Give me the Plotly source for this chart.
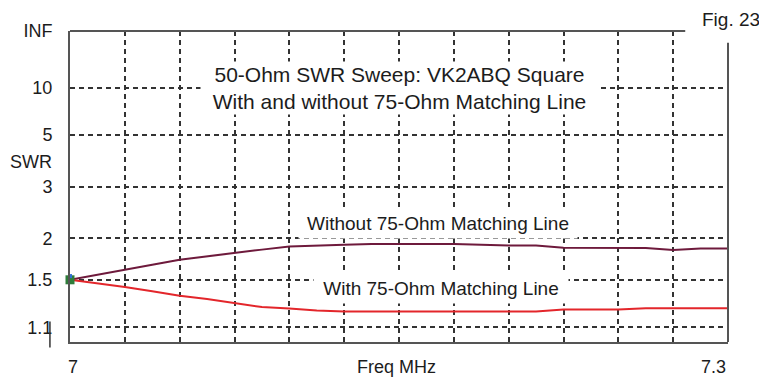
import numpy as np
import plotly.graph_objects as go

# ---- data ----
freq_mhz = [7.000, 7.0125, 7.025, 7.0375, 7.050, 7.0625, 7.075, 7.0875, 7.100, 7.1125,
            7.125, 7.1375, 7.150, 7.175, 7.200, 7.2125, 7.225, 7.250, 7.2625, 7.275,
            7.2875, 7.300]
swr_without = [1.50, 1.55, 1.60, 1.66, 1.72, 1.76, 1.81, 1.845, 1.885, 1.90,
               1.91, 1.92, 1.92, 1.92, 1.90, 1.90, 1.87, 1.87, 1.865, 1.84,
               1.86, 1.86]
swr_with = [1.50, 1.466, 1.43, 1.39, 1.35, 1.32, 1.288, 1.253, 1.241, 1.225,
            1.217, 1.217, 1.217, 1.217, 1.217, 1.217, 1.233, 1.233, 1.243, 1.243,
            1.243, 1.243]
swr_tick_values = [float("inf"), 10, 5, 3, 2, 1.5, 1.1]
swr_tick_labels = ["INF", "10", "5", "3", "2", "1.5", "1.1"]
x_tick_labels = ["7", "7.3"]


def rho(s):
    s = np.asarray(s, dtype=float)
    out = np.where(np.isinf(s), 1.0, (s - 1.0) / (s + 1.0))
    return out


FONT = "Arial, Liberation Sans, sans-serif"
TXT = "#1c1c1c"
GRID = "#333333"

fig = go.Figure()
fig.add_trace(go.Scatter(x=freq_mhz, y=rho(swr_without), mode="lines",
                         line=dict(color="#6e1a3c", width=2), name="Without"))
fig.add_trace(go.Scatter(x=freq_mhz, y=rho(swr_with), mode="lines",
                         line=dict(color="#e3262b", width=2), name="With"))
# source marker at the start frequency
fig.add_trace(go.Scatter(x=[freq_mhz[0]], y=rho([swr_with[0]]), mode="markers",
                         marker=dict(symbol="square", size=9, color="#2f7d3a",
                                     line=dict(width=0)), cliponaxis=False))
fig.add_trace(go.Scatter(x=[freq_mhz[0]], y=rho([swr_with[0]]) + 0.012, mode="markers",
                         marker=dict(symbol="square", size=4, color="#2f6fd0",
                                     line=dict(width=0)), cliponaxis=False))

# page body adds an 8px offset, so the figure is sized to fit the window
fig.update_layout(
    width=759, height=369,
    margin=dict(l=62, r=39, t=23, b=35, autoexpand=False),
    paper_bgcolor="white", plot_bgcolor="white",
    showlegend=False,
    font=dict(family=FONT, color=TXT, size=18),
    xaxis=dict(range=[7.0, 7.3], dtick=0.025, tick0=7.0, showticklabels=False,
               showgrid=True, gridcolor=GRID, griddash="5px,4px", gridwidth=1.5,
               showline=True, linecolor="#555", linewidth=2, zeroline=False,
               ticks="", automargin=False),
    yaxis=dict(range=[0, 1], tickmode="array",
               tickvals=list(rho(swr_tick_values)), ticktext=swr_tick_labels,
               showgrid=True, gridcolor=GRID, griddash="5px,4px", gridwidth=1.5,
               showline=True, linecolor="#555", linewidth=2, zeroline=False,
               ticks="", ticklabelstandoff=12, automargin=False,
               tickfont=dict(size=18, color=TXT, family=FONT)),
)

# partial top and right frame lines (as in the reference)
fig.add_shape(type="line", xref="x domain", yref="y domain", x0=0, x1=0.935, y0=1, y1=1,
              line=dict(color="#555", width=2))
fig.add_shape(type="line", xref="x domain", yref="y domain", x0=1, x1=1, y0=0, y1=0.962,
              line=dict(color="#555", width=2))
fig.add_shape(type="line", xref="x domain", yref="y domain", x0=-0.0305, x1=-0.0305,
              y0=-0.018, y1=0.066, line=dict(color="#333", width=1.5))

ann = []
ann.append(dict(x=7.15, y=float(rho(10)), xref="x", yref="y",
                text="50-Ohm SWR Sweep: VK2ABQ Square<br>With and without 75-Ohm Matching Line",
                showarrow=False, font=dict(size=21, color=TXT, family=FONT),
                bgcolor="white", borderpad=1, width=395, align="center"))
ann.append(dict(x=7.1676, y=0.381, xref="x", yref="y",
                text="Without 75-Ohm Matching Line", showarrow=False,
                font=dict(size=19, color=TXT, family=FONT),
                bgcolor="white", borderpad=4, width=270))
ann.append(dict(x=7.1692, y=0.172, xref="x", yref="y",
                text="With 75-Ohm Matching Line", showarrow=False,
                font=dict(size=19, color=TXT, family=FONT),
                bgcolor="white", borderpad=4, width=246))
ann.append(dict(x=7.0, y=-0.079, xref="x", yref="paper", text=x_tick_labels[0],
                showarrow=False, xanchor="center", yanchor="middle", xshift=3,
                font=dict(size=18, color=TXT, family=FONT)))
ann.append(dict(x=7.3, y=-0.079, xref="x", yref="paper", text=x_tick_labels[1],
                showarrow=False, xanchor="right", yanchor="middle",
                font=dict(size=18, color=TXT, family=FONT)))
ann.append(dict(x=7.149, y=-0.079, xref="x", yref="paper", text="Freq MHz",
                showarrow=False, xanchor="center", yanchor="middle",
                font=dict(size=18, color=TXT, family=FONT)))
ann.append(dict(x=-0.094, y=0.58, xref="paper", yref="paper", text="SWR",
                showarrow=False, xanchor="left", yanchor="middle",
                font=dict(size=18, color=TXT, family=FONT)))
ann.append(dict(x=1.0517, y=1.037, xref="paper", yref="paper", text="Fig. 23",
                showarrow=False, xanchor="right", yanchor="middle",
                font=dict(size=19, color=TXT, family=FONT)))
fig.update_layout(annotations=ann)

fig.write_html("out.html")
